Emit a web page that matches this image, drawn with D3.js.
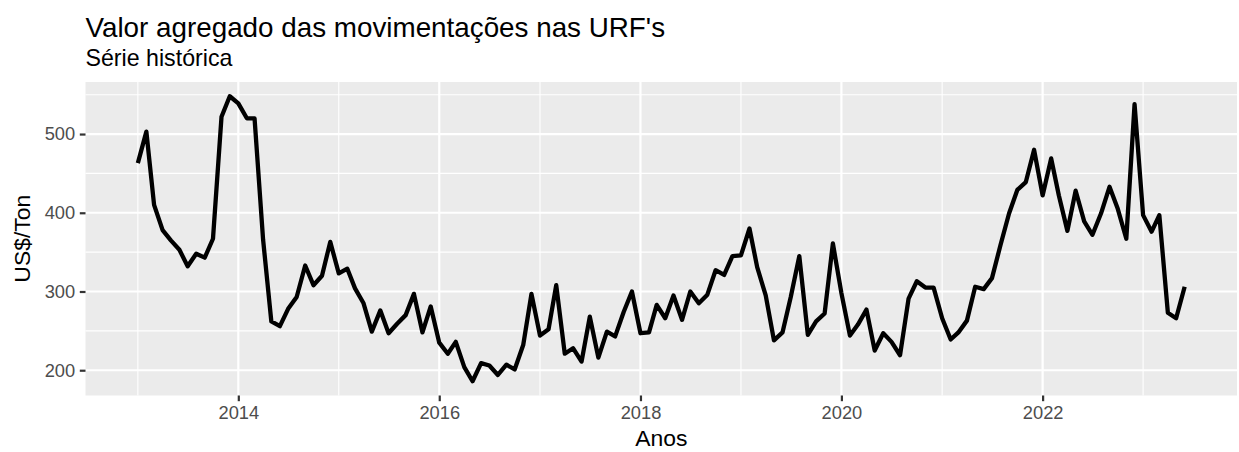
<!DOCTYPE html>
<html>
<head>
<meta charset="utf-8">
<script src="https://cdn.jsdelivr.net/npm/d3@7"></script>
<style>
  html, body { margin: 0; padding: 0; background: #ffffff; }
  svg { display: block; font-family: "Liberation Sans", Arial, sans-serif; }
</style>
</head>
<body>
<svg id="chart" width="1239" height="452"></svg>
<script>
// ---- Data ----
const startMonth = "2013-01-01";
const endMonth = "2023-06-01";
const values = [
  463, 503, 410, 378, 365, 353, 332, 348, 343, 367, 522, 548,
  539, 520, 520, 366, 262, 256, 278, 293, 333, 308, 320, 363,
  323, 329, 304, 285, 249, 276, 247, 259, 270, 297, 248, 281,
  235, 221, 236, 204, 186, 209, 206, 194, 207, 201, 232, 297,
  244, 252, 308, 221, 228, 211, 268, 216, 249, 243, 274, 300,
  247, 248, 283, 266, 295, 264, 300, 285, 296, 327, 321, 345,
  346, 380, 331, 295, 238, 248, 293, 345, 245, 262, 272, 361,
  298, 244, 258, 277, 225, 247, 236, 219, 291, 313, 305, 305,
  266, 239, 248, 263, 306, 303, 317, 359, 399, 429, 439, 480,
  422, 469, 422, 377, 428, 389, 372, 399, 433, 405, 367, 538,
  397, 376, 397, 273, 266, 306
];
const xTickYears = [2014, 2016, 2018, 2020, 2022];
const xMinorYears = [2013, 2015, 2017, 2019, 2021, 2023];
const yTicks = [200, 300, 400, 500];
const yMinor = [250, 350, 450, 550];
const titleText = "Valor agregado das movimentações nas URF's";
const subtitleText = "Série histórica";
const xTitle = "Anos";
const yTitle = "US$/Ton";

// ---- Build ----
const start = new Date(startMonth + "T00:00:00Z");
const end = new Date(endMonth + "T00:00:00Z");
const months = d3.utcMonth.range(start, d3.utcMonth.offset(end, 1));
const data = months.map((d, i) => ({ date: d, value: values[i] }));

const svg = d3.select("#chart");
const panel = { left: 85.5, right: 1237, top: 82, bottom: 395.5 };

function expand(ext, f) {
  const r = ext[1] - ext[0];
  return [ext[0] - r * f, ext[1] + r * f];
}
const xExt = d3.extent(data, d => +d.date);
const xDom = expand(xExt, 0.05).map(v => new Date(v));
const yDom = expand(d3.extent(data, d => d.value), 0.05);

const x = d3.scaleUtc().domain(xDom).range([panel.left, panel.right]);
const y = d3.scaleLinear().domain(yDom).range([panel.bottom, panel.top]);

// panel background
svg.append("rect")
  .attr("x", panel.left).attr("y", panel.top)
  .attr("width", panel.right - panel.left)
  .attr("height", panel.bottom - panel.top)
  .attr("fill", "#EBEBEB");

const grid = svg.append("g");
const yr = v => new Date(Date.UTC(v, 0, 1));
// minor grid
grid.selectAll(".yminor").data(yMinor).join("line")
  .attr("x1", panel.left).attr("x2", panel.right)
  .attr("y1", d => y(d)).attr("y2", d => y(d))
  .attr("stroke", "#ffffff").attr("stroke-width", 1.1);
grid.selectAll(".xminor").data(xMinorYears).join("line")
  .attr("y1", panel.top).attr("y2", panel.bottom)
  .attr("x1", d => x(yr(d))).attr("x2", d => x(yr(d)))
  .attr("stroke", "#ffffff").attr("stroke-width", 1.1);
// major grid
grid.selectAll(".ymajor").data(yTicks).join("line")
  .attr("x1", panel.left).attr("x2", panel.right)
  .attr("y1", d => y(d)).attr("y2", d => y(d))
  .attr("stroke", "#ffffff").attr("stroke-width", 2.2);
grid.selectAll(".xmajor").data(xTickYears).join("line")
  .attr("y1", panel.top).attr("y2", panel.bottom)
  .attr("x1", d => x(yr(d))).attr("x2", d => x(yr(d)))
  .attr("stroke", "#ffffff").attr("stroke-width", 2.2);

// line
const line = d3.line().x(d => x(d.date)).y(d => y(d.value));
svg.append("path").datum(data)
  .attr("d", line)
  .attr("fill", "none")
  .attr("stroke", "#000000")
  .attr("stroke-width", 4.3)
  .attr("stroke-linejoin", "round")
  .attr("stroke-linecap", "butt");

// axes
const xAxis = d3.axisBottom(x)
  .tickValues(xTickYears.map(yr))
  .tickFormat(d3.utcFormat("%Y"))
  .tickSize(5.7).tickPadding(4.6);
const gx = svg.append("g").attr("transform", `translate(0,${panel.bottom})`).call(xAxis);
gx.select(".domain").remove();
gx.selectAll(".tick line").attr("stroke", "#333333").attr("stroke-width", 2.2);
gx.selectAll(".tick text").attr("fill", "#4D4D4D").attr("font-size", "18.3px")
  .attr("font-family", "Liberation Sans, Arial, sans-serif");

const yAxis = d3.axisLeft(y).tickValues(yTicks).tickSize(5.7).tickPadding(4.6);
const gy = svg.append("g").attr("transform", `translate(${panel.left},0)`).call(yAxis);
gy.select(".domain").remove();
gy.selectAll(".tick line").attr("stroke", "#333333").attr("stroke-width", 2.2);
gy.selectAll(".tick text").attr("fill", "#4D4D4D").attr("font-size", "18.3px")
  .attr("font-family", "Liberation Sans, Arial, sans-serif");

// titles
svg.append("text").attr("x", panel.left).attr("y", 37)
  .attr("font-size", "27.8px").attr("fill", "#000").text(titleText);
svg.append("text").attr("x", panel.left).attr("y", 66)
  .attr("font-size", "23.2px").attr("fill", "#000").text(subtitleText);
svg.append("text").attr("x", (panel.left + panel.right) / 2).attr("y", 446)
  .attr("text-anchor", "middle").attr("font-size", "22.9px").attr("fill", "#000").text(xTitle);
svg.append("text")
  .attr("transform", `translate(30,${(panel.top + panel.bottom) / 2}) rotate(-90)`)
  .attr("text-anchor", "middle").attr("font-size", "22.9px").attr("fill", "#000").text(yTitle);
</script>
</body>
</html>
